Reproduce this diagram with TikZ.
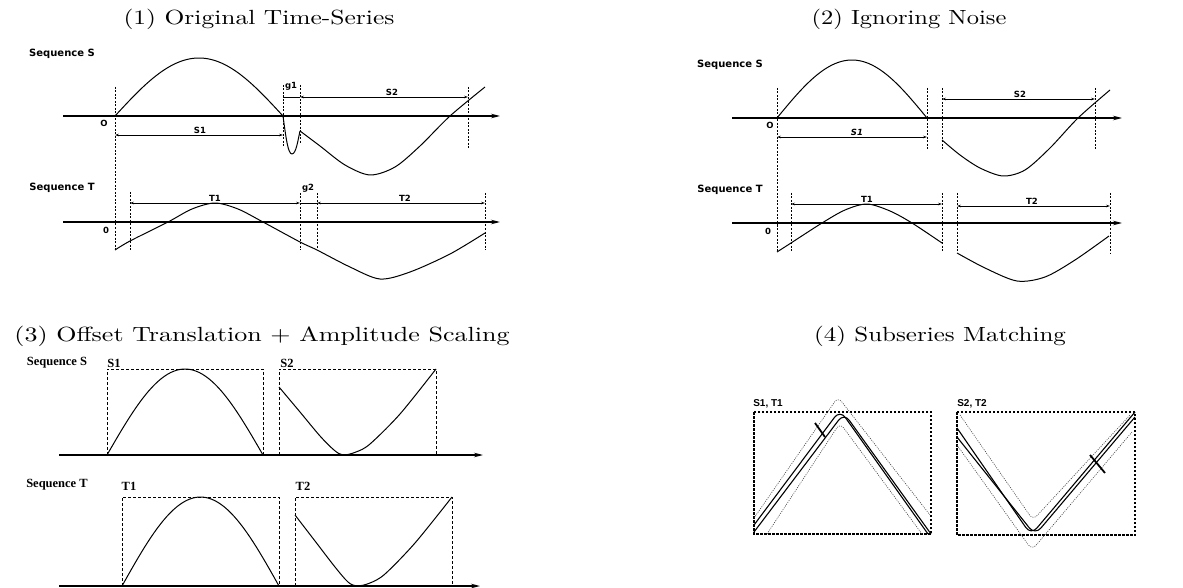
\documentclass[tikz,border=0pt]{standalone}
\usepackage{fontspec}
\newfontfamily\dv{DejaVu Sans}
\newfontfamily\lsans{Liberation Sans}
\newfontfamily\lserif{Liberation Serif}
\usetikzlibrary{arrows.meta}
\begin{document}
\begin{tikzpicture}[x=1pt,y=-1pt,
  title/.style={font=\fontsize{10}{12}\selectfont, inner sep=0pt, anchor=base},
  seqlab/.style={font=\dv\bfseries\fontsize{10}{12}\selectfont, inner sep=0pt},
  dimlab/.style={font=\dv\bfseries\fontsize{8.5}{10}\selectfont, inner sep=0pt},
  plab/.style={font=\lserif\bfseries\fontsize{12.5}{15}\selectfont, inner sep=0pt},
  mlab/.style={font=\lsans\bfseries\fontsize{10}{12}\selectfont, inner sep=0pt},
  curve/.style={line width=1pt, line join=round},
  axis/.style={line width=1.3pt,-{Stealth[length=9pt,width=4.5pt]}},
  guide/.style={line width=0.7pt, dash pattern=on 2pt off 1.5pt},
  dim/.style={line width=0.8pt,{Stealth[length=4pt,width=2.6pt]}-{Stealth[length=4pt,width=2.6pt]}},
  pbox/.style={line width=0.9pt, dash pattern=on 3pt off 2pt},
  mbox/.style={line width=1.3pt, dash pattern=on 2.5pt off 1.5pt},
  ghost/.style={line width=0.6pt, dash pattern=on 1pt off 1.2pt, black!75, rounded corners=6pt},
  twin/.style={line width=1.1pt, rounded corners=9pt},
  bar/.style={line width=1.8pt}
]
\useasboundingbox (0,0) rectangle (1183,588);

% ---------------- titles ----------------
\node[title] (t1) at (259,25) {\scalebox{2.55}[2.05]{(1) Original Time-Series}};
\node[title] (t2) at (909,25) {\scalebox{2.45}[2.05]{(2) Ignoring Noise}};
\node[title] (t3) at (262,341) {\scalebox{2.6}[2.05]{(3) Offset Translation $+$ Amplitude Scaling}};
\node[title] (t4) at (940,341) {\scalebox{2.5}[2.05]{(4) Subseries Matching}};

% ================= panel 1 =================
\node[seqlab] (p1s) at (62,54) {Sequence S};
\node[seqlab] (p1t) at (62,188) {Sequence T};
\draw[axis] (63,116) -- (500,116);
\draw[axis] (63,222) -- (500,222);
\node[dimlab] (p1o) at (104,123) {O};
\node[dimlab] (p1z) at (106,230) {0};
% guides
\draw[guide] (115,87) -- (115,250);
\draw[guide] (283,85) -- (283,147);
\draw[guide] (300,85) -- (300,143);
\draw[guide] (468,87) -- (468,150);
\draw[guide] (130,192) -- (130,250);
\draw[guide] (300,193) -- (300,250);
\draw[guide] (317,193) -- (317,248);
\draw[guide] (485,193) -- (485,250);
% dims
\draw[dim] (115,135) -- (283,135);
\draw[line width=0.8pt] (283,97) -- (300,97);
\draw[dim] (300,97) -- (468,97);
\draw[dim] (130,203) -- (300,203);
\draw[line width=0.8pt] (300,203) -- (317,203);
\draw[dim] (317,203) -- (485,203);
\node[dimlab, anchor=south] (p1s1) at (200,134) {S1};
\node[dimlab, anchor=south] (p1s2) at (392,96) {S2};
\node[dimlab] (p1g1) at (291,86) {g1};
\node[dimlab, anchor=south] (p1t1) at (215,202) {T1};
\node[dimlab] (p1g2) at (308,188) {g2};
\node[dimlab, anchor=south] (p1t2) at (405,202) {T2};
% curves
\draw[curve] plot[domain=0:1, samples=50] ({115+168*\x}, {116-58*sin(180*\x)});
\draw[curve] (283,116) .. controls (286,138) and (288,154) .. (292,154) .. controls (296,154) and (298,140) .. (300,131);
\draw[curve] plot[smooth] coordinates {(300,131) (320,146) (345,165) (370,175) (395,167) (420,146) (450,116) (485,87)};
\draw[curve] plot[smooth] coordinates {(115,250) (130,241) (168,222) (192,209) (215,203) (238,209) (263,222) (300,242) (317,250) (350,267) (380,279) (410,272) (450,254) (485,233)};

% ================= panel 2 =================
\node[seqlab] (p2s) at (730,65) {Sequence S};
\node[seqlab] (p2t) at (730,190) {Sequence T};
\draw[axis] (732,118) -- (1122,118);
\draw[axis] (732,223) -- (1122,223);
\node[dimlab] (p2o) at (770,125) {O};
\node[dimlab] (p2z) at (768,231) {0};
\draw[guide] (777,88) -- (777,252);
\draw[guide] (927,88) -- (927,150);
\draw[guide] (942,88) -- (942,150);
\draw[guide] (1095,88) -- (1095,150);
\draw[guide] (791,193) -- (791,252);
\draw[guide] (942,193) -- (942,252);
\draw[guide] (957,193) -- (957,252);
\draw[guide] (1110,193) -- (1110,253);
\draw[dim] (777,137) -- (927,137);
\draw[dim] (942,99) -- (1095,99);
\draw[dim] (791,204) -- (942,204);
\draw[dim] (957,206) -- (1110,206);
\node[dimlab, anchor=south] (p2s1) at (857,136) {\textit{S1}};
\node[dimlab, anchor=south] (p2s2) at (1020,98) {S2};
\node[dimlab, anchor=south] (p2t1) at (867,203) {T1};
\node[dimlab, anchor=south] (p2t2) at (1032,205) {T2};
\draw[curve] plot[domain=0:1, samples=50] ({777+150*\x}, {118-58*sin(180*\x)});
\draw[curve] plot[smooth] coordinates {(942,140) (960,155) (980,168) (1003,176) (1025,170) (1050,148) (1078,118) (1110,90)};
\draw[curve] plot[smooth] coordinates {(777,252) (791,243) (822,223) (845,210) (867,204) (890,211) (912,223) (942,243)};
\draw[curve] plot[smooth] coordinates {(957,253) (985,268) (1017,281) (1045,277) (1075,260) (1109,236)};

% ================= panel 3 =================
\node[plab] (p3s) at (57,363) {Sequence S};
\node[plab] (p3t) at (57,485) {Sequence T};
\node[plab] (p3s1) at (114,363) {S1};
\node[plab] (p3s2) at (287,363) {S2};
\node[plab] (p3t1) at (129,486) {T1};
\node[plab] (p3t2) at (303,486) {T2};
\draw[axis] (59,455) -- (483,455);
\draw[axis] (59,586) -- (480,586);
\draw[pbox] (107,455) -- (107,369) -- (263,369) -- (263,455);
\draw[pbox] (279,455) -- (279,369) -- (436,369) -- (436,455);
\draw[pbox] (122,586) -- (122,497) -- (279,497) -- (279,586);
\draw[pbox] (295,586) -- (295,497) -- (452,497) -- (452,586);
\draw[curve] plot[domain=0:1, samples=50] ({107+156*\x}, {455-86*sin(180*\x)});
\draw[curve] plot[smooth] coordinates {(279,387) (300,412) (320,436) (334,450) (343,455) (356,452) (370,444) (400,414) (436,369)};
\draw[curve] plot[domain=0:1, samples=50] ({122+157*\x}, {586-89*sin(180*\x)});
\draw[curve] plot[smooth] coordinates {(295,515) (315,541) (335,567) (348,582) (357,586) (370,583) (385,574) (415,543) (452,497)};

% ================= panel 4 =================
\node[mlab] (p4a) at (768,404) {S1, T1};
\node[mlab] (p4b) at (972,404) {S2, T2};
\draw[mbox] (754,412) rectangle (931,534);
\draw[mbox] (957,412) rectangle (1135,535);
% box 1
\draw[ghost] (754,518) -- (838,397) -- (930,515);
\draw[ghost] (767,534) -- (840,423) -- (922,534);
\draw[twin] (754,525) -- (840,410) -- (928,534);
\draw[twin] (754,532) -- (844,413) -- (931,534);
\draw[bar] (815,423) -- (825,437);
% box 2
\draw[ghost] (960,415) -- (1033,520) -- (1130,415);
\draw[ghost] (957,445) -- (1032,550) -- (1132,432);
\draw[twin] (957,428) -- (1031,535) -- (1135,412);
\draw[twin] (957,437) -- (1035,535) -- (1135,417);
\draw[bar] (1090,455) -- (1105,473);
\end{tikzpicture}
\end{document}
